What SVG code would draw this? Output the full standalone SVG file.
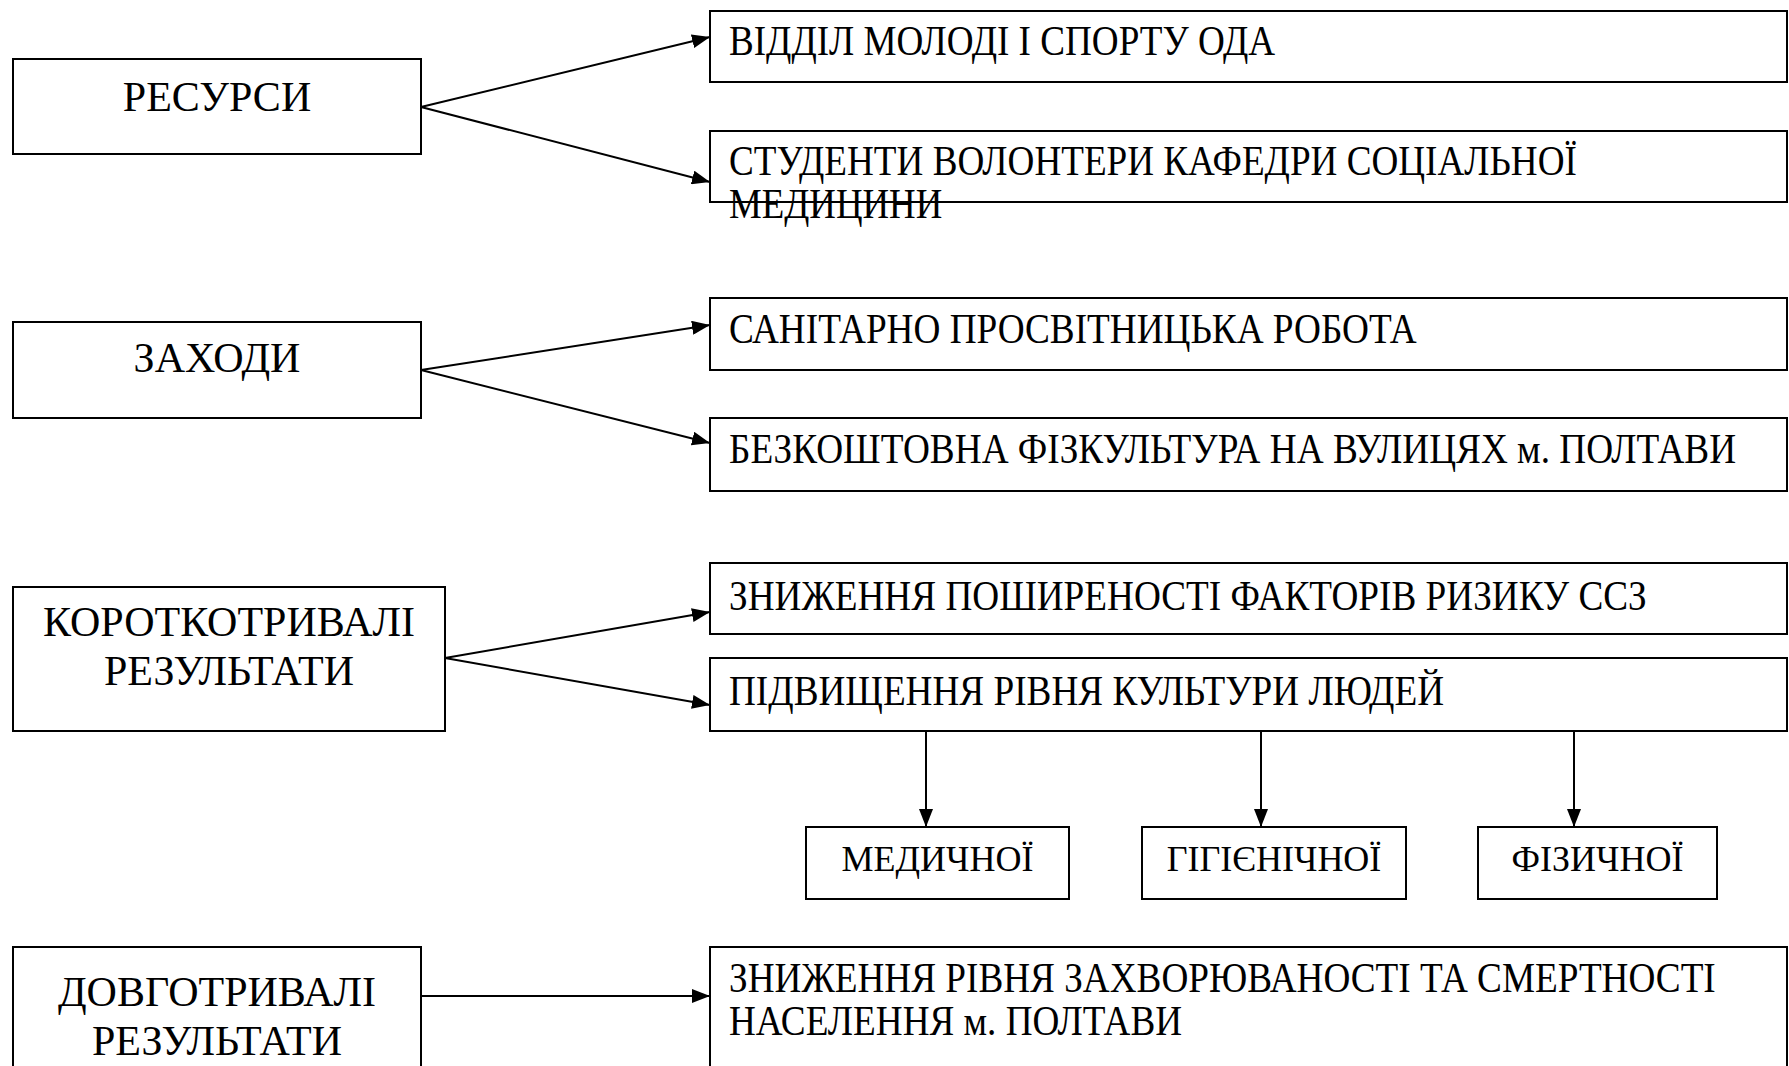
<svg xmlns="http://www.w3.org/2000/svg" width="1789" height="1066" viewBox="0 0 1789 1066">
<style>
.box{fill:#fff;stroke:#000;stroke-width:2}
.t{font-family:"Liberation Serif","Times New Roman",serif;font-size:42px;fill:#000}
.c{text-anchor:middle}
.s{font-size:36px}
.ln{fill:none;stroke:#000;stroke-width:2}
</style>
<defs>
<marker id="ah" markerUnits="userSpaceOnUse" markerWidth="18" markerHeight="14" refX="18" refY="7" orient="auto">
<path d="M0,0 L18,7 L0,14 z" fill="#000"/>
</marker>
</defs>
<rect width="1789" height="1066" fill="#fff"/>
<g id="connectors">
<line class="ln" x1="421" y1="107" x2="710" y2="37" marker-end="url(#ah)"/>
<line class="ln" x1="421" y1="107" x2="710" y2="182" marker-end="url(#ah)"/>
<line class="ln" x1="421" y1="370" x2="710" y2="325" marker-end="url(#ah)"/>
<line class="ln" x1="421" y1="370" x2="710" y2="443" marker-end="url(#ah)"/>
<line class="ln" x1="445" y1="658" x2="710" y2="612" marker-end="url(#ah)"/>
<line class="ln" x1="445" y1="658" x2="710" y2="705" marker-end="url(#ah)"/>
<line class="ln" x1="926" y1="731" x2="926" y2="827" marker-end="url(#ah)"/>
<line class="ln" x1="1261" y1="731" x2="1261" y2="827" marker-end="url(#ah)"/>
<line class="ln" x1="1574" y1="731" x2="1574" y2="827" marker-end="url(#ah)"/>
<line class="ln" x1="421" y1="996" x2="710" y2="996" marker-end="url(#ah)"/>
</g>
<g id="resursy">
<rect class="box" x="13" y="59" width="408" height="95"/>
<text class="t c" x="217" y="111">РЕСУРСИ</text>
</g>
<g id="zakhody">
<rect class="box" x="13" y="322" width="408" height="96"/>
<text class="t c" x="217" y="372">ЗАХОДИ</text>
</g>
<g id="korotkotryvali">
<rect class="box" x="13" y="587" width="432" height="144"/>
<text class="t c" x="229" y="636">КОРОТКОТРИВАЛІ</text>
<text class="t c" x="229" y="685">РЕЗУЛЬТАТИ</text>
</g>
<g id="dovhotryvali">
<rect class="box" x="13" y="947" width="408" height="140"/>
<text class="t c" x="217" y="1006">ДОВГОТРИВАЛІ</text>
<text class="t c" x="217" y="1055">РЕЗУЛЬТАТИ</text>
</g>
<g id="viddil">
<rect class="box" x="710" y="11" width="1077" height="71"/>
<text class="t" transform="translate(729,55) scale(0.885,1)" textLength="617" lengthAdjust="spacingAndGlyphs">ВІДДІЛ МОЛОДІ І СПОРТУ ОДА</text>
</g>
<g id="studenty">
<text class="t" transform="translate(729,175) scale(0.885,1)" textLength="958" lengthAdjust="spacingAndGlyphs">СТУДЕНТИ ВОЛОНТЕРИ КАФЕДРИ СОЦІАЛЬНОЇ</text>
<text class="t" transform="translate(729,218) scale(0.885,1)" textLength="241" lengthAdjust="spacingAndGlyphs">МЕДИЦИНИ</text>
<rect x="710" y="131" width="1077" height="71" fill="none" stroke="#000" stroke-width="2"/>
</g>
<g id="sanitarno">
<rect class="box" x="710" y="298" width="1077" height="72"/>
<text class="t" transform="translate(729,343) scale(0.885,1)" textLength="777" lengthAdjust="spacingAndGlyphs">САНІТАРНО ПРОСВІТНИЦЬКА РОБОТА</text>
</g>
<g id="bezkoshtovna">
<rect class="box" x="710" y="418" width="1077" height="73"/>
<text class="t" transform="translate(729,463) scale(0.885,1)" textLength="1138" lengthAdjust="spacingAndGlyphs">БЕЗКОШТОВНА ФІЗКУЛЬТУРА НА ВУЛИЦЯХ м. ПОЛТАВИ</text>
</g>
<g id="znyzhennia-poshyrenosti">
<rect class="box" x="710" y="563" width="1077" height="71"/>
<text class="t" transform="translate(729,610) scale(0.885,1)" textLength="1037" lengthAdjust="spacingAndGlyphs">ЗНИЖЕННЯ ПОШИРЕНОСТІ ФАКТОРІВ РИЗИКУ ССЗ</text>
</g>
<g id="pidvyshchennia">
<rect class="box" x="710" y="658" width="1077" height="73"/>
<text class="t" transform="translate(729,705) scale(0.885,1)" textLength="808" lengthAdjust="spacingAndGlyphs">ПІДВИЩЕННЯ РІВНЯ КУЛЬТУРИ ЛЮДЕЙ</text>
</g>
<g id="medychnoi">
<rect class="box" x="806" y="827" width="263" height="72"/>
<text class="t s c" x="937.5" y="871">МЕДИЧНОЇ</text>
</g>
<g id="hihienichnoi">
<rect class="box" x="1142" y="827" width="264" height="72"/>
<text class="t s c" x="1274" y="871">ГІГІЄНІЧНОЇ</text>
</g>
<g id="fizychnoi">
<rect class="box" x="1478" y="827" width="239" height="72"/>
<text class="t s c" x="1597.5" y="871">ФІЗИЧНОЇ</text>
</g>
<g id="znyzhennia-rivnia">
<rect class="box" x="710" y="947" width="1077" height="140"/>
<text class="t" transform="translate(729,992) scale(0.885,1)" textLength="1115" lengthAdjust="spacingAndGlyphs">ЗНИЖЕННЯ РІВНЯ ЗАХВОРЮВАНОСТІ ТА СМЕРТНОСТІ</text>
<text class="t" transform="translate(729,1035) scale(0.885,1)" textLength="512" lengthAdjust="spacingAndGlyphs">НАСЕЛЕННЯ м. ПОЛТАВИ</text>
</g>
</svg>
